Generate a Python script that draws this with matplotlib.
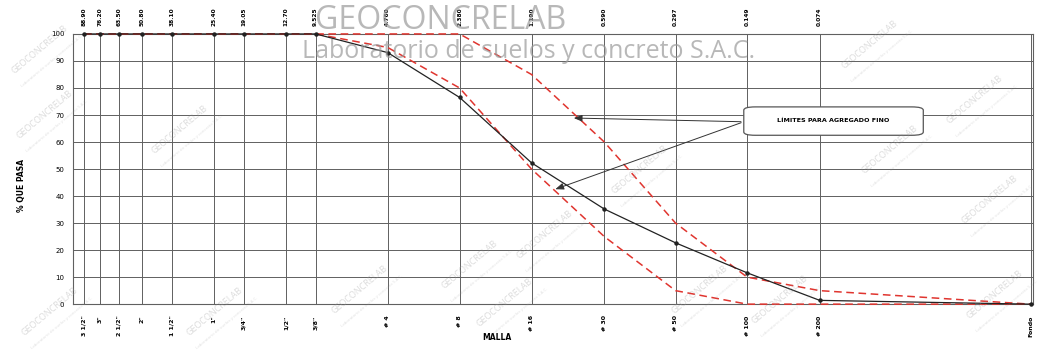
# curva granulometrica - agregado fino
import numpy as np
import matplotlib.pyplot as plt
from matplotlib.patches import FancyBboxPatch

# sieve openings (mm); Fondo is put just past the #200 sieve
aberturas = [88.90, 76.20, 63.50, 50.80, 38.10, 25.40, 19.05, 12.70, 9.525,
             4.760, 2.380, 1.190, 0.590, 0.297, 0.149, 0.074, 0.0097]
mallas = ['3 1/2"', '3"', '2 1/2"', '2"', '1 1/2"', '1"', '3/4"', '1/2"', '3/8"',
          '# 4', '# 8', '# 16', '# 30', '# 50', '# 100', '# 200', 'Fondo']
etiquetas_sup = ['88.90', '76.20', '63.50', '50.80', '38.10', '25.40', '19.05', '12.70',
                 '9.525', '4.760', '2.380', '1.190', '0.590', '0.297', '0.149', '0.074']

# % que pasa (muestra) and the two limits for fine aggregate
pasa = [100, 100, 100, 100, 100, 100, 100, 100, 100,
        93.1, 76.5, 52.3, 35.2, 22.7, 11.6, 1.4, 0]
lim_sup = [100, 100, 100, 100, 100, 100, 100, 100, 100,
           100, 100, 85, 60, 30, 10, 5, 0]
lim_inf = [100, 100, 100, 100, 100, 100, 100, 100, 100,
           95, 80, 50, 25, 5, 0, 0, 0]

gris = '#9a9a9a'

fig = plt.figure(figsize=(10.4, 3.5), dpi=100)
ax = fig.add_axes([0.070, 0.131, 0.923, 0.772])

ax.set_xscale('log')
ax.set_xlim(99, 0.0095)
ax.set_ylim(0, 100)

ax.plot(aberturas, lim_sup, color='#e0352f', lw=1.1, ls=(0, (5, 3)), zorder=3, clip_on=False)
ax.plot(aberturas, lim_inf, color='#e0352f', lw=1.1, ls=(0, (5, 3)), zorder=3, clip_on=False)
ax.plot(aberturas, pasa, color='#222222', lw=0.9, marker='o', ms=2.2, zorder=4, clip_on=False)

# grid only at the sieves
ax.set_xticks(aberturas)
ax.set_xticklabels(mallas, rotation=90, fontsize=4.5, fontweight='bold')
ax.xaxis.set_minor_locator(plt.NullLocator())
ax.set_yticks(np.arange(0, 101, 10))
ax.tick_params(axis='y', labelsize=5, length=0, pad=6)
ax.tick_params(axis='x', length=0, pad=8)
ax.grid(True, color='#606060', lw=0.7)
for s in ax.spines.values():
    s.set_color('#606060')
    s.set_linewidth(0.8)

ax2 = ax.twiny()
ax2.set_xscale('log')
ax2.set_xlim(ax.get_xlim())
ax2.set_xticks(aberturas[:-1])
ax2.set_xticklabels(etiquetas_sup, rotation=90, fontsize=4.2, fontweight='bold')
ax2.xaxis.set_minor_locator(plt.NullLocator())
ax2.tick_params(axis='x', length=0, pad=6)
for s in ax2.spines.values():
    s.set_visible(False)

fig.text(0.478, 0.035, 'MALLA', fontsize=5.5, fontweight='bold', ha='center', va='center')
fig.text(0.021, 0.47, '% QUE PASA', fontsize=5.5, fontweight='bold', rotation=90,
         ha='center', va='center')

# note box with two arrows
caja = FancyBboxPatch((0.699, 0.625), 0.187, 0.105, transform=ax.transAxes,
                      boxstyle='round,pad=0,rounding_size=0.012', fc='white',
                      ec='#555555', lw=0.9, zorder=6)
ax.add_patch(caja)
ax.text(0.792, 0.678, 'LÍMITES PARA AGREGADO FINO', transform=ax.transAxes,
        fontsize=4.6, fontweight='bold', ha='center', va='center', zorder=7)
for destino in [(0.519, 0.689), (0.500, 0.422)]:
    ax.annotate('', xy=destino, xycoords='axes fraction',
                xytext=(0.699, 0.675), textcoords='axes fraction',
                arrowprops=dict(arrowstyle='-|>,head_length=0.5,head_width=0.2',
                                color='#333333', lw=0.7), zorder=5)

# watermarks
fig.text(0.303, 1 - 29 / 350, 'GEOCONCRELAB', fontsize=23, color=gris, alpha=0.7,
         family='Open Sans', ha='left', va='baseline', zorder=10)
fig.text(0.290, 1 - 58 / 350, 'Laboratorio de suelos y concreto S.A.C.', fontsize=18,
         color=gris, alpha=0.7, family='Open Sans', ha='left', va='baseline', zorder=10)

sellos = [(40, 50), (45, 115), (50, 312), (215, 312), (180, 130), (360, 290),
          (470, 265), (545, 235), (505, 303), (700, 290), (780, 300), (870, 45),
          (890, 150), (975, 100), (995, 295), (990, 200), (640, 170)]
for px, py in sellos:
    fig.text(px / 1040, 1 - py / 350, 'GEOCONCRELAB', fontsize=6.5, color=gris,
             alpha=0.35, rotation=40, ha='center', va='center', family='Open Sans')
    fig.text(px / 1040 + 0.012, 1 - py / 350 - 0.03, 'Laboratorio de suelos y concreto S.A.C.',
             fontsize=3.2, color=gris, alpha=0.3, rotation=40, ha='center', va='center',
             family='Open Sans')

plt.savefig('out.png', dpi=100)
